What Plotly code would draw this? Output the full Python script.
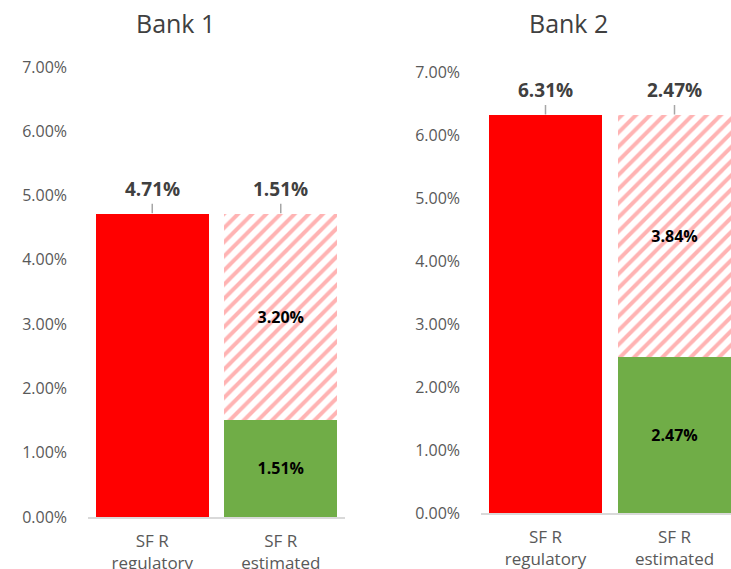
import plotly.graph_objects as go

categories = ["SF R<br>regulatory", "SF R<br>estimated"]
banks = ["Bank 1", "Bank 2"]
regulatory = [4.71, 6.31]
estimated = [1.51, 2.47]
difference = [3.20, 3.84]

W, H = 731, 569
RED = "#FF0000"
GREEN = "#70AD47"
HATCH = "#FFB3B3"
GRAY = "#595959"
DARK = "#404040"
FONT = "Open Sans"

def px(x):
    return x / W

def py(y):
    return (H - y) / H

fig = go.Figure()

axes = [("x", "y"), ("x2", "y2")]
for i, (xa, ya) in enumerate(axes):
    fig.add_trace(go.Bar(
        x=[categories[0]], y=[regulatory[i]], xaxis=xa, yaxis=ya,
        marker=dict(color=RED, line=dict(width=0)), showlegend=False,
        hoverinfo="skip"))
    fig.add_trace(go.Bar(
        x=[categories[1]], y=[estimated[i]], xaxis=xa, yaxis=ya,
        marker=dict(color=GREEN, line=dict(width=0)), showlegend=False,
        text=[f"{estimated[i]:.2f}%"], textposition="inside",
        insidetextanchor="middle",
        textfont=dict(family=FONT, size=16, color="black", weight=700),
        hoverinfo="skip"))
    fig.add_trace(go.Bar(
        x=[categories[1]], y=[difference[i]], xaxis=xa, yaxis=ya,
        marker=dict(color="white", line=dict(width=0),
                    pattern=dict(shape="/", fgcolor=HATCH, bgcolor="white",
                                 size=10, solidity=0.4, fillmode="replace")),
        showlegend=False,
        text=[f"{difference[i]:.2f}%"], textposition="inside",
        insidetextanchor="middle",
        textfont=dict(family=FONT, size=16, color="black", weight=700),
        hoverinfo="skip"))

    # top labels with leader lines
    tops = [regulatory[i], estimated[i] + difference[i]]
    top_text = [regulatory[i], estimated[i]]
    for c, t, v in zip(categories, tops, top_text):
        fig.add_annotation(
            x=c, y=t, xref=xa, yref=ya, text=f"<b>{v:.2f}%</b>",
            showarrow=True, arrowhead=0, arrowwidth=1.5, arrowcolor="#A6A6A6",
            ax=0, ay=-25, standoff=1,
            font=dict(family=FONT, size=19, color=DARK))

# titles
fig.add_annotation(x=px(175), y=py(23), xref="paper", yref="paper",
                   text=banks[0], showarrow=False, xanchor="center", yanchor="middle",
                   font=dict(family=FONT, size=25, color=DARK))
fig.add_annotation(x=px(568), y=py(23), xref="paper", yref="paper",
                   text=banks[1], showarrow=False, xanchor="center", yanchor="middle",
                   font=dict(family=FONT, size=25, color=DARK))

xcommon = dict(showgrid=False, zeroline=False, showline=True, linecolor="#D9D9D9",
               linewidth=1.5, ticks="", tickfont=dict(family=FONT, size=17, color=GRAY),
               ticklabelstandoff=8, fixedrange=True, automargin=False)
ycommon = dict(showgrid=False, zeroline=False, showline=False, range=[0, 7],
               dtick=1, tickformat=".2f", ticksuffix="%", ticks="",
               tickfont=dict(family=FONT, size=16, color=GRAY),
               ticklabelstandoff=20, fixedrange=True, automargin=False)

fig.update_layout(
    width=W, height=H,
    margin=dict(l=0, r=0, t=0, b=0),
    paper_bgcolor="white", plot_bgcolor="white",
    barmode="stack", bargap=0.12,
    xaxis=dict(domain=[px(88), px(345)], range=[-0.5, 1.5], anchor="y", **xcommon),
    yaxis=dict(domain=[py(517), py(67)], anchor="x", **ycommon),
    xaxis2=dict(domain=[px(481), 1.0], range=[-0.5, -0.5 + (731 - 481) / 129.0],
                anchor="y2", **xcommon),
    yaxis2=dict(domain=[py(513), py(72)], anchor="x2", **ycommon),
)

fig.write_html(
    "out.html",
    config={"displayModeBar": False},
    post_script="document.body.style.margin='0';document.body.style.overflow='hidden';",
)
